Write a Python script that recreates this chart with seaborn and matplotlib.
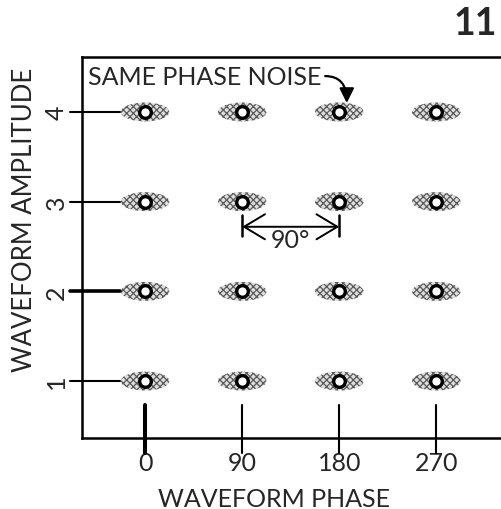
import numpy as np
import pandas as pd
import seaborn as sns
import matplotlib.pyplot as plt
from matplotlib.patches import Ellipse

# constellation points: phase (deg) x amplitude
phases = [0, 90, 180, 270]
amplitudes = [1, 2, 3, 4]
phase_labels = ["0", "90", "180", "270"]
amp_labels = ["1", "2", "3", "4"]

points = pd.DataFrame(
    [(p, a) for a in amplitudes for p in phases], columns=["phase", "amplitude"]
)

sns.set_style("white")
plt.rcParams["font.family"] = ["Lato", "DejaVu Sans"]
plt.rcParams["hatch.linewidth"] = 0.9

fig = plt.figure(figsize=(5.01, 5.10), dpi=100)
ax = fig.add_axes([0.1637, 0.1392, 0.8363, 0.7471])
ax.set_xlim(-58.5, 330)
ax.set_ylim(0.365, 4.613)

# noise ellipses (hatched) behind each point
for _, row in points.iterrows():
    ell = Ellipse((row.phase, row.amplitude), width=45, height=0.21,
                  facecolor="#dedede", edgecolor="#5a5a5a", hatch="xxxxx",
                  linewidth=0, zorder=2)
    ax.add_patch(ell)

sns.scatterplot(data=points, x="phase", y="amplitude", ax=ax, s=70,
                color="white", edgecolor="black", linewidth=2.4, zorder=3,
                legend=False)

# spines
for side in ["left", "bottom", "top"]:
    ax.spines[side].set_linewidth(1.8)
    ax.spines[side].set_color("black")
ax.spines["right"].set_visible(False)

# long tick marks drawn as lines
for i, p in enumerate(phases):
    ax.plot([p, p], [0.198, 0.733], color="black",
            lw=2.9 if i == 0 else 1.5, clip_on=False, zorder=4)
for i, a in enumerate(amplitudes):
    ax.plot([-69.6, -23.2], [a, a], color="black",
            lw=2.6 if a == 2 else 1.5, clip_on=False, zorder=4)

ax.set_xticks(phases)
ax.set_xticklabels(phase_labels, fontsize=18)
ax.set_yticks(amplitudes)
ax.set_yticklabels(amp_labels, fontsize=18, rotation=90, va="center")
ax.tick_params(axis="x", length=0, pad=9)
ax.tick_params(axis="y", length=0, pad=10)

ax.set_xlabel("WAVEFORM PHASE", fontsize=18)
ax.xaxis.set_label_coords(0.458, -0.16)
ax.xaxis.label.set_va("center")
ax.set_ylabel("WAVEFORM AMPLITUDE", fontsize=18.5)
ax.yaxis.set_label_coords(-0.138, 0.575)
ax.yaxis.label.set_va("center")

# annotations
ax.text(-53, 4.40, "SAME PHASE NOISE", fontsize=18, ha="left", va="center")
ax.annotate("", xy=(187, 4.10), xytext=(167, 4.40),
            arrowprops=dict(arrowstyle="-|>", color="black", lw=1.6,
                            mutation_scale=22,
                            connectionstyle="angle3,angleA=0,angleB=90",
                            shrinkA=0, shrinkB=0))

ax.plot([90, 90], [2.62, 2.855], color="black", lw=1.8)
ax.plot([180, 180], [2.62, 2.855], color="black", lw=1.8)
ax.annotate("", xy=(90, 2.72), xytext=(180, 2.72),
            arrowprops=dict(arrowstyle="<->,head_length=0.5,head_width=0.3",
                            color="black", lw=1.4,
                            mutation_scale=30, shrinkA=0, shrinkB=0))
ax.text(135, 2.576, "90°", fontsize=18, ha="center", va="center")

fig.text(0.948, 0.952, "11", fontsize=27, fontweight="bold", ha="center", va="center")

fig.savefig("out.png", dpi=100)
